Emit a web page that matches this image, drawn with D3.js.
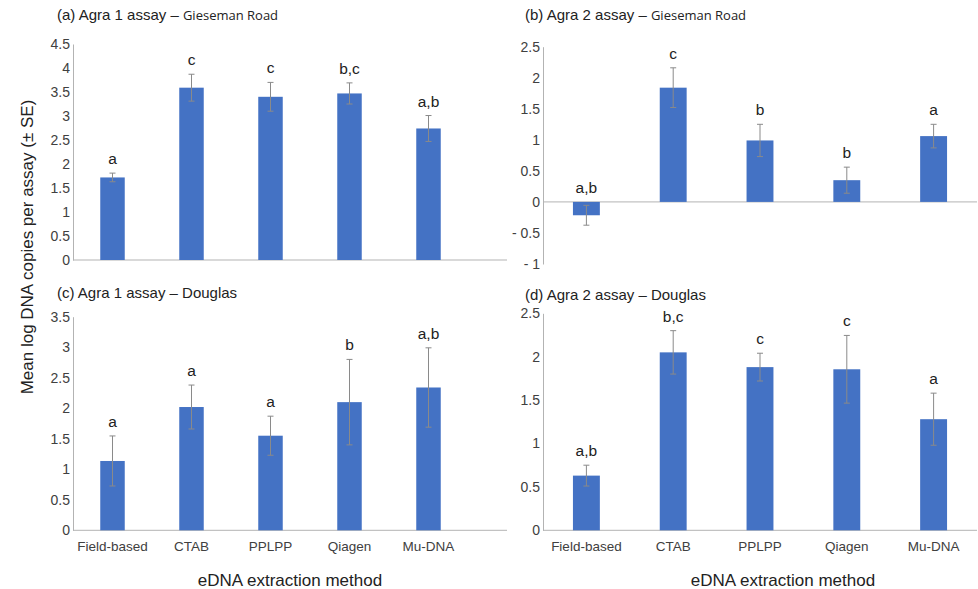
<!DOCTYPE html>
<html><head><meta charset="utf-8">
<script src="https://cdn.jsdelivr.net/npm/d3@7"></script>
<style>body{margin:0;background:#fff;} text{font-family:"Liberation Sans",Arial,sans-serif;}</style>
</head><body>
<svg id="c" width="978" height="589"></svg>
<script>
const categories = ["Field-based","CTAB","PPLPP","Qiagen","Mu-DNA"];
const meansA = [1.72, 3.59, 3.40, 3.47, 2.74];
const seA    = [0.09, 0.28, 0.30, 0.22, 0.27];
const lettersA = ["a","c","c","b,c","a,b"];
const meansB = [-0.215, 1.84, 0.99, 0.35, 1.06];
const seB    = [0.16, 0.32, 0.26, 0.21, 0.19];
const lettersB = ["a,b","c","b","b","a"];
const meansC = [1.136, 2.02, 1.55, 2.10, 2.34];
const seC    = [0.41, 0.36, 0.32, 0.70, 0.65];
const lettersC = ["a","a","a","b","a,b"];
const meansD = [0.63, 2.05, 1.88, 1.855, 1.28];
const seD    = [0.12, 0.25, 0.16, 0.39, 0.30];
const lettersD = ["a,b","b,c","c","c","a"];
const ticksA = [0,0.5,1,1.5,2,2.5,3,3.5,4,4.5];
const ticksB = [-1,-0.5,0,0.5,1,1.5,2,2.5];
const ticksC = [0,0.5,1,1.5,2,2.5,3,3.5];
const ticksD = [0,0.5,1,1.5,2,2.5];

const svg = d3.select("#c");
const barColor = "#4472C4", axisColor = "#b3b3b3", errColor = "#8a8a8a", textColor = "#404040";

function panel(o){
  const g = svg.append("g");
  const y = d3.scaleLinear().domain(o.domain).range(o.yRange);
  const x = d3.scaleBand().domain(categories).range(o.xRange).paddingInner(0.69).paddingOuter(0.345);
  const ya = d3.axisLeft(y).tickValues(o.ticks).tickSize(0).tickPadding(3)
     .tickFormat(v => v < 0 ? "- " + Math.abs(v) : String(v));
  const yg = g.append("g").attr("transform", `translate(${o.xRange[0]},0)`).call(ya);
  yg.select(".domain").attr("stroke", axisColor);
  yg.selectAll("text").attr("fill", textColor).style("font-size", "14px");
  g.append("line").attr("x1", o.xRange[0]).attr("x2", o.xLineEnd)
    .attr("y1", y(0)).attr("y2", y(0)).attr("stroke", axisColor).attr("stroke-width", 1);
  const data = categories.map((c,i)=>({c, v:o.means[i], se:o.se[i], l:o.letters[i]}));
  g.selectAll("rect.bar").data(data).enter().append("rect").attr("class","bar")
    .attr("x", d=>x(d.c)).attr("width", x.bandwidth())
    .attr("y", d=>Math.min(y(d.v), y(0))).attr("height", d=>Math.abs(y(d.v)-y(0)))
    .attr("fill", barColor);
  const eb = g.selectAll("g.err").data(data).enter().append("g").attr("class","err")
    .attr("stroke", errColor).attr("stroke-width", 1);
  eb.append("line").attr("x1", d=>x(d.c)+x.bandwidth()/2).attr("x2", d=>x(d.c)+x.bandwidth()/2)
    .attr("y1", d=>y(d.v+d.se)).attr("y2", d=>y(d.v-d.se));
  eb.append("line").attr("x1", d=>x(d.c)+x.bandwidth()/2-3).attr("x2", d=>x(d.c)+x.bandwidth()/2+3)
    .attr("y1", d=>y(d.v+d.se)).attr("y2", d=>y(d.v+d.se));
  eb.append("line").attr("x1", d=>x(d.c)+x.bandwidth()/2-3).attr("x2", d=>x(d.c)+x.bandwidth()/2+3)
    .attr("y1", d=>y(d.v-d.se)).attr("y2", d=>y(d.v-d.se));
  g.selectAll("text.let").data(data).enter().append("text").attr("class","let")
    .attr("x", d=>x(d.c)+x.bandwidth()/2).attr("y", d=>y(Math.max(0,d.v+d.se))-9)
    .attr("text-anchor","middle").attr("fill","#222").style("font-size","15.5px").text(d=>d.l);
  const t = g.append("text").attr("x", o.titleX).attr("y", o.titleY).attr("fill","#222");
  t.append("tspan").style("font-size","15px").text(o.title1);
  t.append("tspan").style("font-size", o.title2Small ? "13px" : "15px")
    .style("font-family", o.title2Small ? "'Open Sans',sans-serif" : null).text(o.title2);
  if (o.showCats){
    g.selectAll("text.cat").data(categories).enter().append("text").attr("class","cat")
      .attr("x", d=>x(d)+x.bandwidth()/2).attr("y", 551).attr("text-anchor","middle")
      .attr("fill", textColor).style("font-size","13.5px").text(d=>d);
  }
}

panel({domain:[0,4.5], yRange:[260,44], xRange:[73,468], xLineEnd:507, ticks:ticksA,
  means:meansA, se:seA, letters:lettersA, titleX:57, titleY:20,
  title1:"(a) Agra 1 assay – ", title2:"Gieseman Road", title2Small:true});
panel({domain:[-1,2.5], yRange:[264,46.7], xRange:[543,977], xLineEnd:977, ticks:ticksB,
  means:meansB, se:seB, letters:lettersB, titleX:525, titleY:20,
  title1:"(b) Agra 2 assay – ", title2:"Gieseman Road", title2Small:true});
panel({domain:[0,3.5], yRange:[530.3,316.7], xRange:[73,468], xLineEnd:507, ticks:ticksC,
  means:meansC, se:seC, letters:lettersC, titleX:57, titleY:298,
  title1:"(c) Agra 1 assay – ", title2:"Douglas", showCats:true});
panel({domain:[0,2.5], yRange:[530.3,313.3], xRange:[543,977], xLineEnd:977, ticks:ticksD,
  means:meansD, se:seD, letters:lettersD, titleX:525, titleY:300,
  title1:"(d) Agra 2 assay – ", title2:"Douglas", showCats:true});

svg.append("text").attr("transform","translate(33,247) rotate(-90)").attr("text-anchor","middle")
  .attr("fill","#222").style("font-size","17px").text("Mean log DNA copies per assay (± SE)");
svg.append("text").attr("x",290).attr("y",586).attr("text-anchor","middle")
  .attr("fill","#222").style("font-size","17px").text("eDNA extraction method");
svg.append("text").attr("x",783).attr("y",586).attr("text-anchor","middle")
  .attr("fill","#222").style("font-size","17px").text("eDNA extraction method");
</script>
</body></html>
